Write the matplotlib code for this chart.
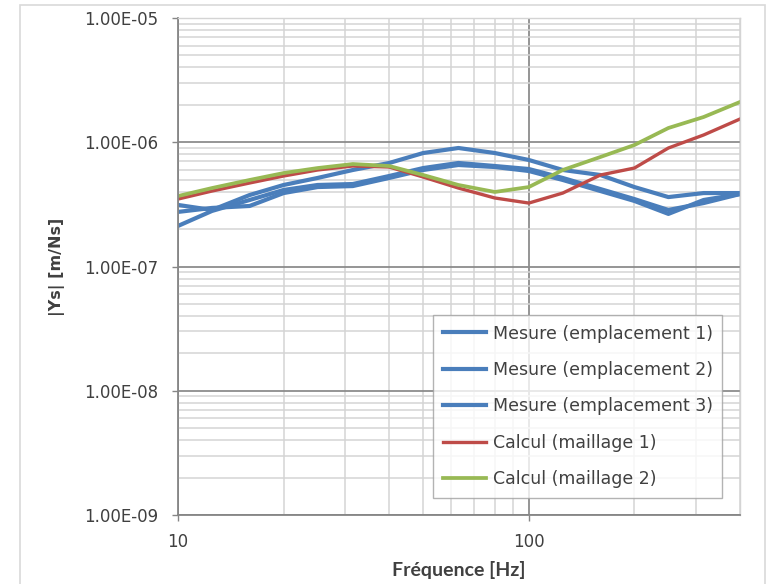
import matplotlib
matplotlib.use("Agg")
import matplotlib.pyplot as plt
from matplotlib.patches import Rectangle
from matplotlib.ticker import LogLocator, FixedLocator, NullFormatter

plt.rcParams['font.family'] = ['DejaVu Sans']

freq = [10, 12.5, 16, 20, 25, 31.5, 40, 50, 63, 80, 100, 125, 160, 200, 250, 315, 400]

mesure1 = [3.13e-7, 2.85e-7, 3.76e-7, 4.53e-7, 5.16e-7, 5.98e-7, 6.81e-7, 8.19e-7, 8.99e-7,
           8.19e-7, 7.20e-7, 5.98e-7, 5.45e-7, 4.36e-7, 3.62e-7, 3.90e-7, 3.90e-7]
mesure2 = [2.75e-7, 2.96e-7, 3.07e-7, 3.90e-7, 4.36e-7, 4.44e-7, 5.16e-7, 5.98e-7, 6.56e-7,
           6.32e-7, 5.87e-7, 4.97e-7, 4.05e-7, 3.37e-7, 2.65e-7, 3.43e-7, 3.83e-7]
mesure3 = [2.12e-7, 2.80e-7, 3.43e-7, 4.13e-7, 4.53e-7, 4.61e-7, 5.35e-7, 6.20e-7, 6.81e-7,
           6.44e-7, 6.09e-7, 5.16e-7, 4.20e-7, 3.49e-7, 2.85e-7, 3.24e-7, 3.83e-7]
calcul1 = [3.49e-7, 4.05e-7, 4.70e-7, 5.35e-7, 5.98e-7, 6.44e-7, 6.32e-7, 5.25e-7, 4.28e-7,
           3.56e-7, 3.24e-7, 3.90e-7, 5.45e-7, 6.20e-7, 8.99e-7, 1.144e-6, 1.538e-6]
calcul2 = [3.69e-7, 4.28e-7, 4.97e-7, 5.65e-7, 6.20e-7, 6.68e-7, 6.44e-7, 5.45e-7, 4.53e-7,
           3.98e-7, 4.36e-7, 5.98e-7, 7.61e-7, 9.50e-7, 1.302e-6, 1.596e-6, 2.109e-6]

labels = ["Mesure (emplacement 1)", "Mesure (emplacement 2)", "Mesure (emplacement 3)",
          "Calcul (maillage 1)", "Calcul (maillage 2)"]
yticks = [1e-9, 1e-8, 1e-7, 1e-6, 1e-5]
yticklabels = ["1.00E-09", "1.00E-08", "1.00E-07", "1.00E-06", "1.00E-05"]
xticks = [10, 100]
xticklabels = ["10", "100"]

blue = "#4A7EBB"
red = "#BE4B48"
green = "#98B954"

fig = plt.figure(figsize=(7.68, 5.84), dpi=100)
fig.patches.append(Rectangle((20/768, -0.02), 745/768, 1.02 - 5/584,
                             transform=fig.transFigure, fill=False,
                             edgecolor="#d9d9d9", linewidth=1.2))
ax = fig.add_axes([178/768, 1 - 515/584, (740 - 178)/768, (515 - 18)/584])

ax.set_xscale("log")
ax.set_yscale("log")
ax.set_xlim(10, 400)
ax.set_ylim(1e-9, 1e-5)

ax.plot(freq, mesure1, color=blue, lw=3.0, label=labels[0], solid_joinstyle="round")
ax.plot(freq, mesure2, color=blue, lw=3.0, label=labels[1], solid_joinstyle="round")
ax.plot(freq, mesure3, color=blue, lw=3.0, label=labels[2], solid_joinstyle="round")
ax.plot(freq, calcul1, color=red, lw=2.4, label=labels[3], solid_joinstyle="round")
ax.plot(freq, calcul2, color=green, lw=2.7, label=labels[4], solid_joinstyle="round")

ax.yaxis.set_major_locator(FixedLocator(yticks))
ax.set_yticklabels(yticklabels)
ax.yaxis.set_minor_locator(LogLocator(base=10, subs=range(2, 10), numticks=20))
ax.yaxis.set_minor_formatter(NullFormatter())
ax.xaxis.set_major_locator(FixedLocator(xticks))
ax.set_xticklabels(xticklabels)
ax.xaxis.set_minor_locator(LogLocator(base=10, subs=range(2, 10), numticks=20))
ax.xaxis.set_minor_formatter(NullFormatter())

ax.grid(which="major", color="#8c8c8c", lw=1.3)
ax.grid(which="minor", color="#d4d4d4", lw=1.1)
ax.set_axisbelow(True)

ax.tick_params(which="major", length=4, width=1, color="#868686",
               labelsize=12, labelcolor="#404040")
ax.tick_params(axis="y", pad=10)
ax.tick_params(axis="x", pad=9)
ax.tick_params(which="minor", length=0)
for s in ["left", "bottom"]:
    ax.spines[s].set_color("#868686")
    ax.spines[s].set_linewidth(1.3)
for s in ["top", "right"]:
    ax.spines[s].set_color("#d4d4d4")
    ax.spines[s].set_linewidth(1.0)

ax.set_ylabel("|Ys| [m/Ns]", fontsize=11.5, fontweight="bold", color="#404040")
ax.yaxis.set_label_coords((65 - 178)/562, 0.5)
ax.set_xlabel("Fréquence [Hz]", fontsize=14, fontweight="bold", color="#404040",
              labelpad=7, family=["Lato", "DejaVu Sans"])

leg = ax.legend(loc="upper left", bbox_to_anchor=((433 - 178)/562, (515 - 315)/497,
                                                  (722 - 433)/562, 0.0),
                mode="expand", fontsize=12.5, frameon=True, fancybox=False,
                edgecolor="#a0a0a0", handlelength=2.5, handletextpad=0.4,
                labelspacing=1.06, borderpad=0.55, borderaxespad=0)
leg.get_frame().set_linewidth(1.0)
for t in leg.get_texts():
    t.set_color("#404040")

fig.savefig("out.png", dpi=100)
